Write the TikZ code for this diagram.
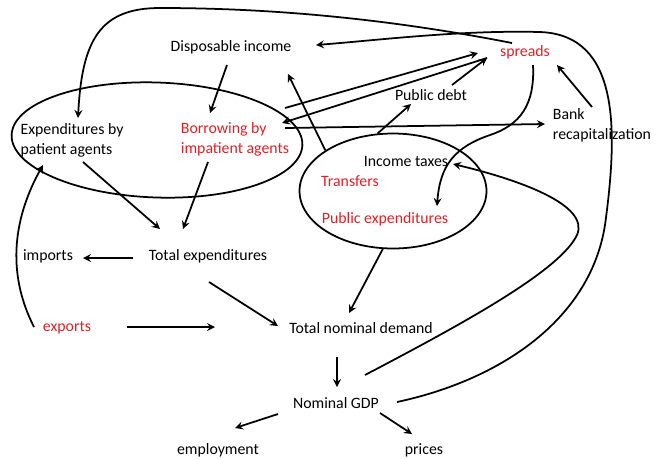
\documentclass[tikz,border=0pt]{standalone}
\usepackage{fontspec}
\setmainfont{Carlito}
\usetikzlibrary{shapes.geometric,calc}
\definecolor{redtxt}{RGB}{228,30,36}

\begin{document}
\begin{tikzpicture}[>=stealth, x=0.02cm, y=-0.02cm, line width=1pt]
    % styles
    \tikzstyle{var}=[inner sep=2pt, font=\fontsize{9}{11.3}\selectfont, align=left]
    \tikzstyle{hot}=[var, text=redtxt]
    \tikzstyle{blob}=[ellipse, draw, inner sep=0pt]
    \useasboundingbox (0,0) rectangle (655,458);

    % sectors
    \node[blob, minimum width=5.82cm, minimum height=2.3cm, rotate=-2] (private) at (157,140) {};
    \node[blob, minimum width=3.74cm, minimum height=2.3cm] (gov) at (393,191) {};

    % variables
    \node[var] (disp) at (231,47) {Disposable income};
    \node[hot] (spreads) at (525,52) {spreads};
    \node[var] (debt) at (431,95) {Public debt};
    \node[var] (bank) at (602,125) {Bank\\recapitalization};
    \node[var] (patient) at (72,140) {Expenditures by\\patient agents};
    \node[hot] (borrow) at (235,139) {Borrowing by\\impatient agents};
    \node[var] (taxes) at (406,161) {Income taxes};
    \node[hot] (transfers) at (350,181) {Transfers};
    \node[hot] (pubexp) at (385,219) {Public expenditures};
    \node[var] (imports) at (48,256) {imports};
    \node[var] (totexp) at (208,256) {Total expenditures};
    \node[hot] (exports) at (67,328) {exports};
    \node[var] (demand) at (361,328) {Total nominal demand};
    \node[var] (gdp) at (336,403) {Nominal GDP};
    \node[var] (employ) at (218,450) {employment};
    \node[var] (prices) at (424,450) {prices};

    % long loops
    \draw[->] ($(spreads)+(-13,-9)$) .. controls (420,25) and (300,8) .. (160,8)
        .. controls (100,8) and (82,40) .. ($(patient)+(6,-22)$);      % spreads -> patient
    \draw[->] ($(gdp)+(61,-1)$) .. controls (500,380) and (590,320) .. (605,225)
        .. controls (618,130) and (620,35) .. (540,32)
        .. controls (460,30) and (380,40) .. ($(disp)+(85,-2)$);       % gdp -> disp
    \draw[->] ($(gdp)+(29,-28)$) .. controls (470,320) and (560,270) .. (577,235)
        .. controls (590,205) and (520,180) .. ($(taxes)+(47,3)$);     % gdp -> taxes
    \draw[->] ($(spreads)+(8,13)$) .. controls (535,105) and (520,125) .. (490,135)
        .. controls (455,147) and (440,165) .. ($(pubexp)+(52,-13)$);  % spreads -> pubexp
    \draw[->] ($(exports)+(-33,-1)$) .. controls (5,270) and (15,215) .. ($(patient)+(-29,25)$); % exports -> patient

    % straight links
    \draw[->] ($(bank)+(-10,-18)$) -- ($(spreads)+(32,13)$);     % bank -> spreads
    \draw[->] ($(borrow)+(50,-11)$) -- ($(bank)+(-57,-1)$);      % borrow -> bank
    \draw[->] ($(borrow)+(50,-31)$) -- ($(spreads)+(-47,1)$);    % borrow -> spreads
    \draw[->] ($(spreads)+(-38,6)$) -- ($(borrow)+(47,-16)$);    % spreads -> borrow
    \draw[->] ($(debt)+(21,-10)$) -- ($(spreads)+(-38,6)$);      % debt -> spreads
    \draw[->] (gov.105) -- ($(debt)+(-20,9)$);                   % gov -> debt
    \draw[->] (gov.149) -- ($(disp)+(57,27)$);                   % gov -> disp
    \draw[->] ($(disp)+(-4,18)$) -- ($(borrow)+(-25,-26)$);      % disp -> borrow
    \draw[->] ($(patient)+(11,22)$) -- ($(totexp)+(-48,-27)$);   % patient -> totexp
    \draw[->] ($(borrow)+(-27,23)$) -- ($(totexp)+(-25,-27)$);   % borrow -> totexp
    \draw[->] ($(totexp)+(-75,2)$) -- ($(imports)+(35,2)$);      % totexp -> imports
    \draw[->] ($(totexp)+(1,26)$) -- ($(demand)+(-83,-2)$);      % totexp -> demand
    \draw[->] ($(exports)+(60,-1)$) -- ($(demand)+(-146,-1)$);   % exports -> demand
    \draw[->] (gov.-100) -- ($(demand)+(-12,-15)$);              % gov -> demand
    \draw[->] ($(demand)+(-24,29)$) -- ($(gdp)+(1,-16)$);        % demand -> gdp
    \draw[->] ($(gdp)+(-58,11)$) -- ($(employ)+(17,-22)$);       % gdp -> employ
    \draw[->] ($(gdp)+(44,10)$) -- ($(prices)+(-12,-16)$);       % gdp -> prices
\end{tikzpicture}
\end{document}
